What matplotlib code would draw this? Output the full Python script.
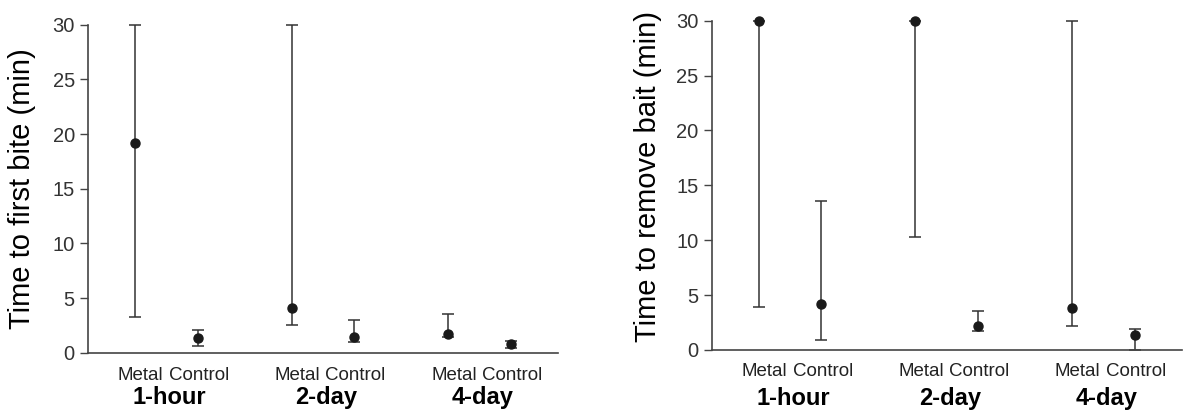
import matplotlib
matplotlib.use("Agg")
import matplotlib.pyplot as plt
import numpy as np

# categories
groups = ['1-hour', '2-day', '4-day']
treatments = ['Metal', 'Control']

# time to first bite (min): point, lower end, upper end (Metal, Control per group)
bite_mid = [19.2, 1.3, 4.1, 1.4, 1.7, 0.8]
bite_low = [3.3, 0.65, 2.5, 0.95, 1.4, 0.4]
bite_high = [30.0, 2.1, 30.0, 3.0, 3.5, 1.1]

# time to remove bait (min)
bait_mid = [30.0, 4.2, 30.0, 2.2, 3.8, 1.4]
bait_low = [3.95, 0.9, 10.3, 1.7, 2.2, 0.0]
bait_high = [30.0, 13.6, 30.0, 3.55, 30.0, 1.9]

plt.rcParams['font.family'] = ['Liberation Sans', 'DejaVu Sans']

fig = plt.figure(figsize=(11.84, 4.17), dpi=100)
ax1 = fig.add_axes([0.0743, 0.1542, 0.397, 0.7866])
ax2 = fig.add_axes([0.6011, 0.1607, 0.397, 0.7897])

# x positions: pairs inside groups with a wider gap between groups
xpos = []
for g in range(len(groups)):
    xpos += [g * 2.5, g * 2.5 + 1]
xpos = np.array(xpos)

def draw_panel(ax, mid, low, high, ylabel, lab_coords, lab_y, grp_y):
    mid = np.array(mid)
    yerr = [mid - np.array(low), np.array(high) - mid]
    ax.errorbar(xpos, mid, yerr=yerr, fmt='o', color='#1a1a1a', ecolor='#333333',
                markersize=6.5, elinewidth=1.1, capsize=4.5, capthick=1.1, clip_on=False)
    ax.set_xlim(-0.75, 6.75)
    ax.set_ylim(0, 30)
    ax.set_yticks(np.arange(0, 31, 5))
    for s in ['top', 'right']:
        ax.spines[s].set_visible(False)
    for s in ['left', 'bottom']:
        ax.spines[s].set_color('#444444')
        ax.spines[s].set_linewidth(1.2)
    ax.tick_params(axis='y', direction='out', length=6, width=1.0, color='#444444',
                   labelcolor='#333333', labelsize=14.5, pad=3.5)
    ax.set_xticks([])
    ax.set_ylabel(ylabel, fontsize=21, color='black', va='center')
    ax.yaxis.set_label_coords(*lab_coords)
    # treatment labels and group labels under the axis
    trans = ax.get_xaxis_transform()
    for i, x in enumerate(xpos):
        ax.text(x + (0.09 if i % 2 == 0 else 0.02), lab_y, treatments[i % 2], transform=trans,
                ha='center', va='center', fontsize=13.5, color='#222222')
    for g, name in enumerate(groups):
        ax.text(g * 2.5 + 0.55, grp_y, name, transform=trans, ha='center', va='center',
                fontsize=17, fontweight='bold', color='black')

draw_panel(ax1, bite_mid, bite_low, bite_high, 'Time to first bite (min)',
           (-0.140, 0.5), -0.07, -0.138)
draw_panel(ax2, bait_mid, bait_low, bait_high, 'Time to remove bait (min)',
           (-0.1355, 0.527), -0.066, -0.146)

fig.savefig('out.png', dpi=100)
